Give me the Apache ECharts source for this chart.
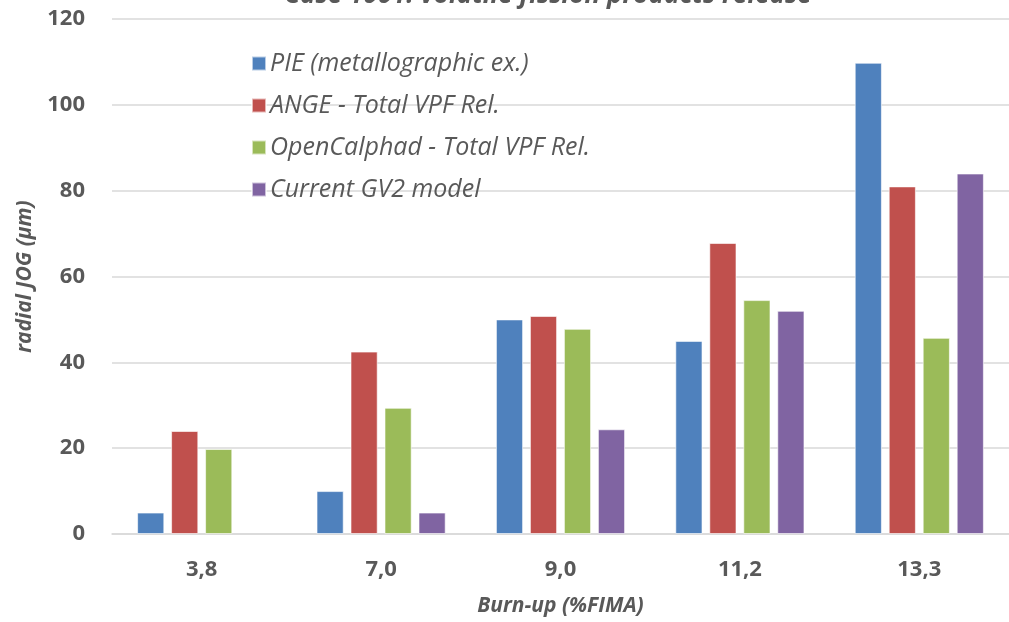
<!DOCTYPE html>
<html>
<head>
<meta charset="utf-8">
<script src="https://cdn.jsdelivr.net/npm/echarts@6/dist/echarts.min.js"></script>
<style>html,body{margin:0;padding:0;background:#fff;overflow:hidden;}#c{width:1009px;height:622px;}</style>
</head>
<body>
<div id="c"></div>
<script>
const categories = ['3,8', '7,0', '9,0', '11,2', '13,3'];
const seriesNames = ['PIE (metallographic ex.)', 'ANGE - Total VPF Rel.', 'OpenCalphad - Total VPF Rel.', 'Current GV2 model'];
const pieValues = [5.0, 10.0, 50.0, 45.0, 109.8];
const angeValues = [24.0, 42.5, 50.8, 67.8, 81.0];
const openCalphadValues = [19.8, 29.4, 47.8, 54.5, 45.7];
const gv2Values = [null, 5.0, 24.4, 52.0, 84.0];
const yTicks = [0, 20, 40, 60, 80, 100, 120];
const colors = ['#4F81BD', '#C0504D', '#9BBB59', '#8064A2'];

const chart = echarts.init(document.getElementById('c'), null, {renderer: 'canvas'});
const textColor = '#595959';
const font = 'Open Sans';
const dataSets = [pieValues, angeValues, openCalphadValues, gv2Values];
chart.setOption({
  animation: false,
  backgroundColor: '#ffffff',
  title: {
    text: 'Case 1001: volatile fission products release',
    left: 543, textAlign: 'center', top: -22,
    textStyle: {fontFamily: font, fontSize: 26, fontWeight: 'bold', fontStyle: 'italic', color: textColor}
  },
  legend: {
    orient: 'vertical', left: 246, top: 46, itemGap: 17,
    itemWidth: 14, itemHeight: 14, icon: 'rect',
    textStyle: {fontFamily: font, fontSize: 25, fontStyle: 'italic', color: textColor, padding: [0,0,0,-1]},
    data: seriesNames
  },
  grid: {left: 112, width: 907, top: 19, height: 517, containLabel: false},
  xAxis: {
    type: 'category', data: categories,
    name: 'Burn-up (%FIMA)', nameLocation: 'middle', nameGap: 62,
    nameTextStyle: {fontFamily: font, fontSize: 21, fontWeight: 'bold', fontStyle: 'italic', color: textColor},
    axisLine: {lineStyle: {color: '#D9D9D9', width: 1.5}},
    axisTick: {show: false},
    axisLabel: {fontFamily: font, fontSize: 22, fontWeight: 'bold', color: textColor, margin: 25}
  },
  yAxis: {
    type: 'value', min: yTicks[0], max: yTicks[yTicks.length - 1], interval: yTicks[1] - yTicks[0],
    name: 'radial JOG (µm)', nameLocation: 'middle', nameGap: 76, nameRotate: 90,
    nameTextStyle: {fontFamily: font, fontSize: 21, fontWeight: 'bold', fontStyle: 'italic', color: textColor},
    axisLine: {show: false}, axisTick: {show: false},
    splitLine: {lineStyle: {color: '#D9D9D9', width: 1.5}},
    axisLabel: {fontFamily: font, fontSize: 22, fontWeight: 'bold', color: textColor, margin: 27}
  },
  series: seriesNames.map((n, i) => ({
    name: n, type: 'bar', data: dataSets[i],
    barGap: '25%', barCategoryGap: '28%',
    itemStyle: {color: colors[i], borderColor: 'rgba(255,255,255,0.6)', borderWidth: 1}
  }))
});
</script>
</body>
</html>
